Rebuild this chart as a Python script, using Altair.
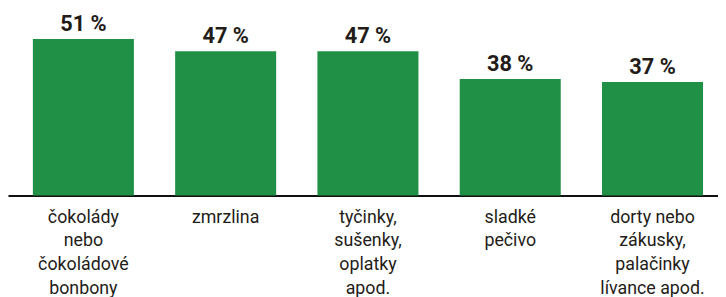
import altair as alt
import pandas as pd

categories = [
    "čokolády\nnebo\nčokoládové\nbonbony",
    "zmrzlina",
    "tyčinky,\nsušenky,\noplatky\napod.",
    "sladké\npečivo",
    "dorty nebo\nzákusky,\npalačinky\nlívance apod.",
]
values = [51, 47, 47, 38, 37]

df = pd.DataFrame({"cat": categories, "value": values})
df["label"] = [f"{v} %" for v in values]

GREEN = "#1f9045"
DARK = "#231c18"
SHIFT = 5

x = alt.X(
    "cat:N",
    sort=categories,
    title=None,
    scale=alt.Scale(paddingInner=0.29, paddingOuter=0.14, align=0.5, round=False),
    axis=alt.Axis(
        labelExpr="split(datum.label, '\\n')",
        labelAngle=0,
        labelFont="Roboto",
        labelFontSize=18,
        labelLineHeight=24,
        labelColor=DARK,
        labelPadding=13,
        labelOffset=SHIFT,
        labelAlign="center",
        labelBaseline="top",
        ticks=False,
        domainColor="#111111",
        domainWidth=2,
        grid=False,
    ),
)
y = alt.Y("value:Q", title=None, scale=alt.Scale(domain=[0, 60.6], nice=False), axis=None)

base = alt.Chart(df).encode(x=x, y=y)
bars = base.mark_bar(color=GREEN, xOffset=SHIFT, width=alt.RelativeBandSize(band=1))
text = base.mark_text(
    baseline="alphabetic", dy=-8, dx=SHIFT, font="Roboto", fontWeight="bold", fontSize=22, color=DARK
).encode(text="label:N")

chart = (
    alt.layer(bars, text)
    .properties(
        width=718,
        height=188,
        autosize=alt.AutoSizeParams(type="none"),
        padding={"left": 0, "top": 0, "right": 0, "bottom": 101},
    )
    .configure(background="white", view=alt.ViewConfig(stroke=None))
)

chart.save("out.html", embed_options={"renderer": "svg", "actions": False})
